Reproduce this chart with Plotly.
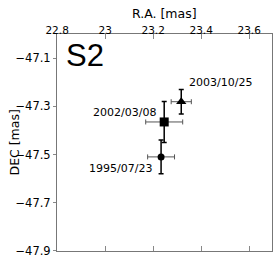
import plotly.graph_objects as go

# Data
dates = ["1995/07/23", "2002/03/08", "2003/10/25"]
ra = [23.233, 23.246, 23.317]
dec = [-47.51, -47.365, -47.281]
ra_err = [0.056, 0.077, 0.042]
dec_err = [0.07, 0.085, 0.051]
symbols = ["circle", "square", "triangle-up"]
sizes = [7, 9, 9]

# label positions (data coords)
label_x = [23.202, 23.222, 23.342]
label_y = [-47.56, -47.327, -47.202]
label_anchor = ["right", "right", "left"]

x_ticks = [22.8, 23.0, 23.2, 23.4, 23.6]
x_tick_text = ["22.8", "23", "23.2", "23.4", "23.6"]
y_ticks = [-47.1, -47.3, -47.5, -47.7, -47.9]
y_tick_text = ["\u221247.1", "\u221247.3", "\u221247.5", "\u221247.7", "\u221247.9"]

font_family = "DejaVu Sans, Liberation Sans, Arial, sans-serif"
big_family = "Liberation Sans, Arial, sans-serif"

fig = go.Figure()
for i in range(len(dates)):
    fig.add_trace(go.Scatter(
        x=[ra[i]], y=[dec[i]], mode="markers",
        marker=dict(symbol=symbols[i], size=sizes[i], color="black"),
        error_x=dict(type="data", array=[ra_err[i]], color="#555555", thickness=1, width=2.5),
        error_y=dict(type="data", array=[dec_err[i]], color="black", thickness=1.5, width=2.5),
        showlegend=False,
    ))

for i in range(len(dates)):
    fig.add_annotation(x=label_x[i], y=label_y[i], text=dates[i], showarrow=False,
                       xanchor=label_anchor[i], yanchor="middle",
                       font=dict(size=11, color="black", family=font_family))

fig.add_annotation(x=0.13, y=0.90, xref="paper", yref="paper", text="S2", showarrow=False,
                   xanchor="center", yanchor="middle",
                   font=dict(size=31, color="black", family=big_family))

# axis titles
fig.add_annotation(x=0.5, y=1.095, xref="paper", yref="paper", text="R.A. [mas]",
                   showarrow=False, xanchor="center", yanchor="middle",
                   font=dict(size=12.5, color="black", family=font_family))
fig.add_annotation(x=-0.2, y=0.5, xref="paper", yref="paper", text="DEC [mas]",
                   showarrow=False, xanchor="center", yanchor="middle", textangle=-90,
                   font=dict(size=12.5, color="black", family=font_family))

fig.update_layout(
    width=273, height=257,
    margin=dict(l=57, r=1, t=34, b=6, autoexpand=False),
    paper_bgcolor="white", plot_bgcolor="white",
    font=dict(family=font_family, size=11, color="black"),
    xaxis=dict(
        range=[22.7995, 23.695], side="top", tickvals=x_ticks, ticktext=x_tick_text,
        ticks="inside", ticklen=5, tickcolor="#888888", showgrid=False, zeroline=False,
        showline=True, linecolor="#777777", linewidth=1, mirror="ticks",
        tickfont=dict(size=10.5), automargin=False, ticklabelstandoff=-5,
        ticklabeloverflow="allow",
    ),
    yaxis=dict(
        range=[-47.9005, -47.0], tickvals=y_ticks, ticktext=y_tick_text,
        ticks="outside", ticklen=3, tickcolor="#888888", showgrid=False, zeroline=False,
        showline=True, linecolor="#777777", linewidth=1, mirror="ticks",
        tickfont=dict(size=11.5), automargin=False, ticklabeloverflow="allow",
    ),
)

fig.write_html("out.html", config={"displayModeBar": False},
               post_script="document.body.style.margin='0';document.body.style.overflow='hidden';")
